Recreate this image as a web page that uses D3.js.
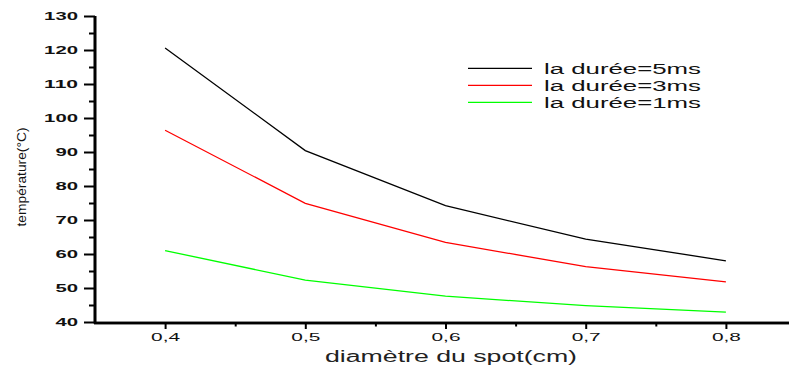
<!DOCTYPE html>
<html><head><meta charset="utf-8">
<script src="https://cdnjs.cloudflare.com/ajax/libs/d3/7.8.5/d3.min.js"></script>
<style>
html,body{margin:0;padding:0;background:#fff;}
svg{display:block;font-family:"Liberation Sans",Arial,sans-serif;}
</style></head>
<body>
<svg id="chart" width="789" height="367"></svg>
<script>
const diameters = [0.4, 0.5, 0.6, 0.7, 0.8];
const seriesNames = ["la durée=5ms", "la durée=3ms", "la durée=1ms"];
const temp5ms = [120.6, 90.4, 74.2, 64.4, 58.0];
const temp3ms = [96.4, 74.9, 63.4, 56.3, 51.8];
const temp1ms = [61.0, 52.3, 47.6, 44.8, 42.9];
const seriesColors = ["#000000", "#ff0000", "#00ff00"];
const yMajorTicks = [40, 50, 60, 70, 80, 90, 100, 110, 120, 130];
const yMinorTicks = [45, 55, 65, 75, 85, 95, 105, 115, 125];
const xMajorTicks = [0.4, 0.5, 0.6, 0.7, 0.8];
const xMinorTicks = [0.45, 0.55, 0.65, 0.75];
const xTitle = "diamètre du spot(cm)";
const yTitle = "température(°C)";

const svg = d3.select("#chart");
const x = d3.scaleLinear().domain([0.35, 0.85]).range([95, 796]);
const y = d3.scaleLinear().domain([40, 130]).range([322, 16]);

// lines
const allSeries = [temp5ms, temp3ms, temp1ms];
const line = d3.line().x((d, i) => x(diameters[i])).y(d => y(d));
allSeries.forEach((s, k) => {
  svg.append("path").datum(s).attr("d", line)
    .attr("fill", "none").attr("stroke", seriesColors[k]).attr("stroke-width", 1.3);
});

// y axis
const yMinor = svg.append("g").attr("transform", "translate(95,0)")
  .call(d3.axisLeft(y).tickValues(yMinorTicks).tickSize(6).tickFormat(""));
const yMajor = svg.append("g").attr("transform", "translate(95,0)")
  .call(d3.axisLeft(y).tickValues(yMajorTicks).tickSize(11).tickPadding(6).tickFormat(d3.format("d")));
[yMinor, yMajor].forEach(g => {
  g.select(".domain").attr("stroke", "#000").attr("stroke-width", 2.6).attr("d", `M0,${y(130)}V${y(40)+1.5}`);
  g.selectAll(".tick line").attr("stroke", "#000").attr("stroke-width", 2);
});
yMajor.selectAll(".tick text")
  .attr("font-size", 10.5).attr("fill", "#111").attr("font-weight", "bold")
  .each(function(d){ const n = String(d).length; d3.select(this).attr("textLength", n*11.3).attr("lengthAdjust","spacingAndGlyphs"); });

// x axis
const xMinor = svg.append("g").attr("transform", "translate(0,323)")
  .call(d3.axisBottom(x).tickValues(xMinorTicks).tickSize(3.5).tickFormat(""));
const xMajor = svg.append("g").attr("transform", "translate(0,323)")
  .call(d3.axisBottom(x).tickValues(xMajorTicks).tickSize(6).tickPadding(4).tickFormat(d => d3.format(".1f")(d).replace(".", ",")));
[xMinor, xMajor].forEach(g => {
  g.select(".domain").attr("stroke", "#000").attr("stroke-width", 2.6).attr("d", `M94,0H796`);
  g.selectAll(".tick line").attr("stroke", "#000").attr("stroke-width", 2);
});
xMajor.selectAll(".tick text")
  .attr("font-size", 11).attr("fill", "#111")
  .attr("textLength", 29).attr("lengthAdjust", "spacingAndGlyphs");

// axis titles
svg.append("text").attr("x", 451).attr("y", 361.5).attr("text-anchor", "middle")
  .attr("font-size", 16).attr("fill", "#222").text(xTitle)
  .attr("textLength", 252).attr("lengthAdjust", "spacingAndGlyphs");
svg.append("text").attr("transform", "translate(26,177) rotate(-90)")
  .attr("text-anchor", "middle").attr("font-size", 13).attr("fill", "#111").text(yTitle)
  .attr("textLength", 99).attr("lengthAdjust", "spacingAndGlyphs");

// legend
const legend = svg.append("g");
seriesNames.forEach((name, k) => {
  const ly = 68.3 + k * 17;
  legend.append("line").attr("x1", 468).attr("x2", 532).attr("y1", ly).attr("y2", ly)
    .attr("stroke", seriesColors[k]).attr("stroke-width", 1.3);
  legend.append("text").attr("x", 544).attr("y", ly + 6).attr("font-size", 14).attr("fill", "#111")
    .text(name).attr("textLength", 157).attr("lengthAdjust", "spacingAndGlyphs");
});
</script>
</body></html>
